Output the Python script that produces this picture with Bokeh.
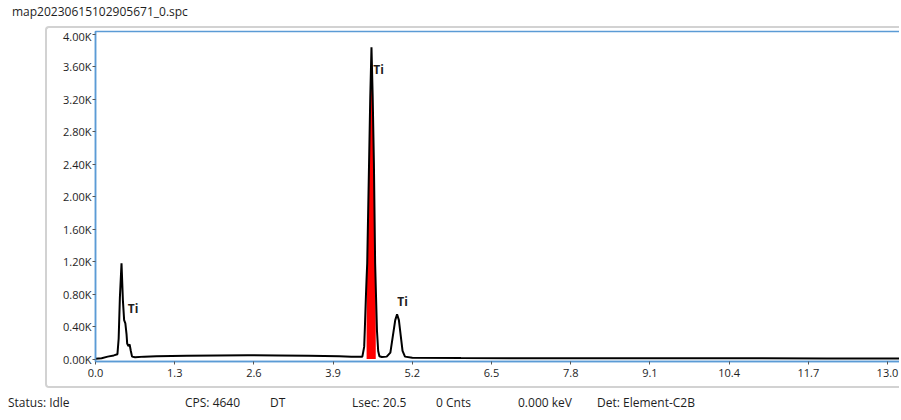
from bokeh.plotting import figure
from bokeh.layouts import column
from bokeh.models import Range1d, FixedTicker, Div
from bokeh.core.properties import value
from bokeh.embed import file_html
from bokeh.resources import INLINE

title_text = "map20230615102905671_0.spc"

energy_kev = [0.00, 0.10, 0.20, 0.30, 0.36, 0.38, 0.40, 0.427, 0.45, 0.47,
              0.49, 0.51, 0.52, 0.54, 0.56, 0.58, 0.60, 0.65, 0.80, 1.00,
              1.50, 2.00, 2.50, 3.00, 3.50, 4.00, 4.20, 4.30, 4.38, 4.41,
              4.42, 4.44, 4.45, 4.46, 4.49, 4.51, 4.53, 4.55, 4.57, 4.59,
              4.60, 4.62, 4.64, 4.66, 4.70, 4.78, 4.84, 4.88, 4.92, 4.95,
              4.98, 5.01, 5.04, 5.08, 5.20, 6.00, 8.00, 10.00, 12.00, 13.30]
counts = [5, 10, 30, 45, 60, 250, 750, 1180, 720, 480,
          440, 300, 190, 160, 180, 100, 30, 22, 30, 35,
          40, 44, 46, 44, 40, 34, 30, 27, 30, 150,
          350, 800, 1000, 1180, 2400, 3225, 3840, 3225, 2400, 1180,
          900, 350, 100, 35, 25, 30, 80, 280, 480, 550,
          480, 290, 100, 30, 15, 12, 10, 9, 8, 8]

roi_start = 4.45
roi_end = 4.60

x_ticks = [0.0, 1.3, 2.6, 3.9, 5.2, 6.5, 7.8, 9.1, 10.4, 11.7, 13.0]
x_tick_labels = ["0.0", "1.3", "2.6", "3.9", "5.2", "6.5", "7.8", "9.1", "10.4", "11.7", "13.0"]
y_ticks = [0, 400, 800, 1200, 1600, 2000, 2400, 2800, 3200, 3600, 4000]
y_tick_labels = ["0.00K", "0.40K", "0.80K", "1.20K", "1.60K", "2.00K",
                 "2.40K", "2.80K", "3.20K", "3.60K", "4.00K"]

peak_label_text = ["Ti", "Ti", "Ti"]
peak_label_energy = [0.53, 4.56, 4.955]
peak_label_counts = [625, 3560, 710]

status_items = ["Status: Idle", "CPS: 4640", "DT", "Lsec: 20.5", "0 Cnts", "0.000 keV", "Det: Element-C2B"]

FONT = "Open Sans"
BLUE = "#5B9BD5"
TXT = "#1e1e1e"

title_div = Div(
    text=(f'<div style="font-family:\'{FONT}\';font-size:12px;color:{TXT};'
          f'padding:4px 0 0 12px;line-height:16px;white-space:nowrap">{title_text}</div>'),
    width=901, height=26, margin=0)

p = figure(width=854, height=362, output_backend="svg", toolbar_location=None,
           x_range=Range1d(0, 13.23), y_range=Range1d(-30, 4033),
           min_border_left=48, min_border_right=0, min_border_top=3, min_border_bottom=29,
           margin=(0, 0, 0, 45))
p.styles = {"border": "2px solid #d2d2d2", "border-right": "none",
            "border-radius": "4px 0 0 4px"}
p.background_fill_color = "white"
p.border_fill_color = "white"
p.outline_line_color = BLUE
p.outline_line_width = 1.5
p.xgrid.visible = False
p.ygrid.visible = False

for ax in (p.xaxis[0], p.yaxis[0]):
    ax.axis_line_color = BLUE
    ax.axis_line_width = 1.5
    ax.major_tick_in = 0
    ax.major_tick_out = 3
    ax.major_tick_line_color = "#555555"
    ax.minor_tick_line_color = None
    ax.major_label_text_font = FONT
    ax.major_label_text_font_size = "11px"
    ax.major_label_text_color = TXT

p.xaxis.ticker = FixedTicker(ticks=x_ticks)
p.xaxis.major_label_overrides = {t: l for t, l in zip(x_ticks, x_tick_labels)}
p.xaxis.major_label_standoff = 4
p.yaxis.ticker = FixedTicker(ticks=y_ticks)
p.yaxis.major_label_overrides = {t: l for t, l in zip(y_ticks, y_tick_labels)}
p.yaxis.major_label_standoff = 1

roi_e = [e for e in energy_kev if roi_start <= e <= roi_end]
roi_c = [c for e, c in zip(energy_kev, counts) if roi_start <= e <= roi_end]
p.varea(x=roi_e, y1=0, y2=roi_c, fill_color="#ff0000")
p.line(energy_kev, counts, line_color="black", line_width=2)

p.text(x=peak_label_energy, y=peak_label_counts, text=peak_label_text,
       text_font=value(FONT), text_font_style="bold", text_font_size="12px",
       text_color=TXT, text_baseline="middle", text_align="left")

status_x = [8, 185, 270, 352, 436, 518, 597]
spans = "".join(
    f'<span style="position:absolute;left:{sx}px;top:7px;white-space:nowrap">{txt}</span>'
    for sx, txt in zip(status_x, status_items))
status_div = Div(
    text=(f'<div style="position:relative;width:901px;height:28px;font-family:\'{FONT}\';'
          f'font-size:12px;line-height:16px;color:{TXT}">{spans}</div>'),
    width=901, height=28, margin=0)

layout = column(title_div, p, status_div, spacing=0, margin=0)

open("out.html", "w").write(file_html(layout, INLINE))
